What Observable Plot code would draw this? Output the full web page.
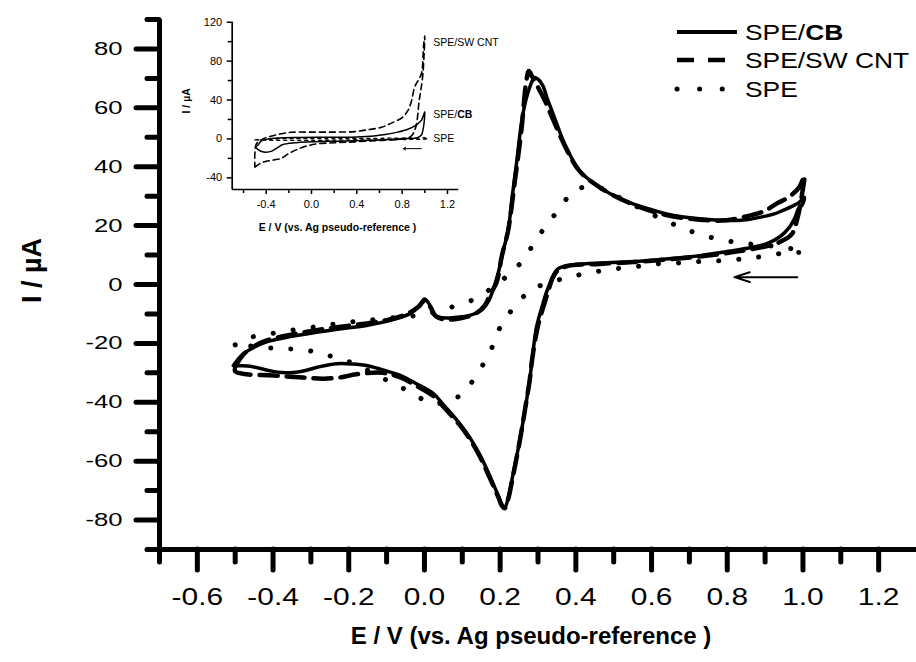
<!DOCTYPE html>
<html><head><meta charset="utf-8">
<script src="https://cdn.jsdelivr.net/npm/d3@7"></script>
<script src="https://cdn.jsdelivr.net/npm/@observablehq/plot@0.6"></script>
<style>
html,body{margin:0;padding:0;background:#fff;}
#wrap{position:relative;width:916px;height:662px;overflow:hidden;font-family:"Liberation Sans",Arial,sans-serif;}
#main,#inset,#legend{position:absolute;left:0;top:0;}
#inset{left:160px;top:0;}
</style></head><body>
<div id="wrap"><div id="main"></div><div id="inset"></div><svg id="legend" width="916" height="662"></svg></div>
<script>
// ---------- main chart data (E in V, I in µA) ----------
const cbE = [-0.505,-0.49,-0.478,-0.45,-0.417,-0.35,-0.285,-0.22,-0.153,-0.09,-0.038,-0.015,0.0,0.012,0.027,0.049,0.08,0.111,0.14,0.155,0.17,0.181,0.195,0.208,0.221,0.232,0.243,0.26,0.278,0.291,0.302,0.313,0.325,0.34,0.357,0.375,0.41,0.463,0.51,0.551,0.6,0.639,0.68,0.727,0.797,0.85,0.885,0.92,0.946,0.975,0.99,1.004,
  0.998,0.99,0.978,0.964,0.94,0.903,0.86,0.815,0.727,0.639,0.551,0.463,0.42,0.375,0.355,0.348,0.338,0.331,0.32,0.313,0.296,0.285,0.278,0.265,0.252,0.241,0.231,0.222,0.212,0.204,0.196,0.186,0.165,0.146,0.12,0.093,0.05,0.023,-0.02,-0.065,-0.11,-0.153,-0.19,-0.232,-0.28,-0.32,-0.355,-0.4,-0.46,-0.49,-0.505];
const cbI = [-27.5,-25,-23.5,-21.3,-19.5,-17.6,-16.2,-15,-13.9,-12.2,-9.9,-7.5,-4.9,-6.5,-10.5,-11.3,-11.2,-10.8,-9.5,-8.2,-5.5,-2,4,11.5,18.3,30,40.9,57.9,66.9,70.3,69.5,67.5,63,57.9,52,46.5,38.6,33,29.6,27.4,25.4,24,23,22.3,21.7,22,22.8,23.8,25.1,26.8,27.9,29.6,
  27,26.2,22.5,19.4,16.3,13.8,12.5,11.5,9.8,8.7,7.8,7.3,7,6.4,5.5,4.7,2.5,0.2,-3.5,-6.5,-14.5,-25,-32.5,-43,-52.9,-60,-66.4,-72,-75.9,-74.5,-72,-69,-62.8,-57.8,-52,-47.2,-40.8,-37,-33.8,-30.8,-29,-27.5,-27,-26.9,-28,-29.4,-30,-29.5,-27.8,-27.6,-27.5];

const cntE = [-0.5,-0.48,-0.45,-0.417,-0.35,-0.285,-0.22,-0.153,-0.09,-0.038,-0.015,0.0,0.015,0.03,0.05,0.08,0.111,0.14,0.16,0.175,0.19,0.205,0.221,0.239,0.256,0.269,0.276,0.285,0.3,0.32,0.34,0.375,0.41,0.463,0.551,0.639,0.727,0.797,0.859,0.9,0.929,0.96,0.99,1.004,
  0.998,0.986,0.97,0.94,0.903,0.815,0.727,0.639,0.551,0.463,0.375,0.35,0.338,0.33,0.318,0.3,0.285,0.278,0.265,0.252,0.241,0.231,0.222,0.212,0.204,0.196,0.186,0.165,0.146,0.12,0.093,0.05,0.023,-0.02,-0.065,-0.11,-0.18,-0.22,-0.267,-0.31,-0.355,-0.41,-0.47,-0.5,-0.5];
const cntI = [-28,-24,-21,-19,-17,-15.5,-14.3,-13.2,-11.8,-9.5,-7.5,-5.5,-7.5,-10.8,-11.8,-11.8,-11,-9.5,-7,-3,0.5,10,18.3,35.3,52.2,69,72.5,70.5,67,62,56,46,38.5,33,27.2,23.6,22,21.8,23.4,25,27.4,29.5,33,37,
  31,22.8,17,14.5,13,11,9.5,8.5,7.6,7,6.2,4.5,2,-1,-6,-14,-25,-32.5,-43,-53,-60.5,-67,-72.5,-76,-75,-72.5,-69.5,-63.5,-58.3,-52.5,-47.7,-41.5,-37.8,-34.5,-31.5,-30,-30.5,-31.5,-32,-31.7,-31.3,-30.8,-30.5,-29.5,-28];

const speE = [-0.5,-0.49,-0.46,-0.41,-0.355,-0.29,-0.232,-0.17,-0.109,-0.02,0.03,0.076,0.133,0.18,0.215,0.241,0.26,0.28,0.313,0.353,0.397,0.45,0.5,0.56,0.621,0.678,0.731,0.788,0.841,0.9,0.955,1.004,
  0.955,0.894,0.841,0.784,0.727,0.669,0.612,0.56,0.502,0.445,0.392,0.34,0.283,0.234,0.2,0.177,0.151,0.115,0.08,0.06,0.03,0.01,-0.047,-0.1,-0.16,-0.215,-0.267,-0.32,-0.38,-0.45,-0.5];
const speI = [-20.5,-20,-18,-16.8,-15.6,-14.4,-13.3,-12.4,-11.6,-10.5,-9.3,-7.5,-4.9,-1,2.5,5.3,8.5,12.1,18.5,25.1,31.9,33.3,30.5,26.5,22.6,19.4,16.9,15.1,14,13.3,12.5,11,
  10.8,9.5,8.7,8.1,7.8,7.3,7,6.1,5.3,4.2,2.8,1,-1.8,-8.2,-14.5,-21.8,-28,-34.8,-39,-40.4,-40.3,-39.9,-35.9,-32.5,-28.5,-25.5,-23.7,-22.1,-21.8,-21,-20.5];

// scan-direction arrow
const arrowE = [0.985, 0.819];
const arrowI = [2.5, 2.5];

// axes ticks
const xMajor = [-0.6,-0.4,-0.2,0.0,0.2,0.4,0.6,0.8,1.0,1.2];
const xMinor = [-0.7,-0.5,-0.3,-0.1,0.1,0.3,0.5,0.7,0.9,1.1];
const yMajor = [-80,-60,-40,-20,0,20,40,60,80];
const yMinor = [-90,-70,-50,-30,-10,10,30,50,70,90];
const xTitle = "E / V (vs. Ag pseudo-reference )";
const yTitle = "I / µA";

// ---------- inset data ----------
const insCntE = [-0.5,-0.45,-0.4,-0.35,-0.3,-0.26,-0.2,-0.13,-0.05,0.05,0.2,0.38,0.6,0.8,0.88,0.92,0.95,0.98,0.995,1.0,
  0.99,0.97,0.94,0.91,0.88,0.85,0.8,0.7,0.62,0.5,0.38,0.2,0.0,-0.18,-0.28,-0.35,-0.42,-0.47,-0.49,-0.5,-0.5];
const insCntI = [-29,-25,-23,-22,-21,-19.5,-15,-11,-7.5,-5,-4,-3,-1.5,0,3,12,39,63,90,106,
  97,67,60,53,38,29,22,16,12,9.5,7.5,7,7,6.8,5,3,0.5,-3,-6,-15,-29];
const insCbE = [-0.47,-0.44,-0.38,-0.3,-0.1,0.2,0.4,0.55,0.65,0.76,0.85,0.92,0.97,1.0,0.995,0.985,0.97,0.93,0.85,0.6,0.3,0.03,-0.1,-0.2,-0.26,-0.3,-0.35,-0.4,-0.44,-0.47,-0.49,-0.47];
const insCbI = [-6,-2,0,1,1.5,1.7,2,3,4.5,7,10,14,19,28,18,10,4,1,0.5,-1,-2.2,-2.8,-3.5,-4.5,-6,-9,-12.5,-13.7,-13,-11,-8.5,-6];
const insSpeE = [-0.5,-0.3,0,0.5,0.9,1.0,1.03,1.0,0.9,0.5,0,-0.3,-0.5];
const insSpeI = [-1,0.2,0.3,0.5,1,1.2,0.2,-0.3,-0.5,-1,-1.5,-1.5,-1];
const insLabels = ["SPE/SW CNT","SPE/CB","SPE"];
const insLabelE = [1.075,1.075,1.075];
const insLabelI = [99.4,24.7,0];
const insArrowE = [0.97, 0.81];
const insArrowI = [-10, -10];
const insXMajor = [-0.4,0.0,0.4,0.8,1.2];
const insXMinor = [-0.6,-0.2,0.2,0.6,1.0];
const insYMajor = [-40,0,40,80,120];
const insYMinor = [-20,20,60,100];

// legend
const legendNames = ["SPE/CB","SPE/SW CNT","SPE"];

// ---------- build ----------
const rows = (E, I) => E.map((e, i) => ({E: e, I: I[i]}));
const cb = rows(cbE, cbI), cnt = rows(cntE, cntI), spe = rows(speE, speI);
const FONT = '"Liberation Sans", Arial, sans-serif';

// widen glyphs horizontally (reference text is horizontally stretched)
function stretch(root, selector, sx) {
  root.querySelectorAll(selector).forEach(t => {
    const w = t.getComputedTextLength();
    if (w > 0) {
      t.setAttribute("textLength", (w * sx).toFixed(2));
      t.setAttribute("lengthAdjust", "spacingAndGlyphs");
    }
  });
}

const main = Plot.plot({
  width: 916, height: 662,
  marginLeft: 159, marginRight: 0, marginTop: 19, marginBottom: 113,
  x: {domain: [-0.7, 1.3]},
  y: {domain: [-90, 90]},
  style: {fontFamily: FONT, color: "#000", background: "transparent", overflow: "visible"},
  marks: [
    Plot.line(spe, {x: "E", y: "I", curve: "catmull-rom", stroke: "#000", strokeWidth: 5, strokeDasharray: "0.1,20", strokeLinecap: "round"}),
    Plot.line(cnt, {x: "E", y: "I", curve: "catmull-rom", stroke: "#000", strokeWidth: 4.5, strokeDasharray: "18,9"}),
    Plot.line(cb, {x: "E", y: "I", curve: "catmull-rom", stroke: "#000", strokeWidth: 3.5}),
    Plot.arrow([{x1: arrowE[0], x2: arrowE[1], y1: arrowI[0], y2: arrowI[1]}], {x1: "x1", y1: "y1", x2: "x2", y2: "y2", stroke: "#000", strokeWidth: 2, headLength: 12, headAngle: 35}),
    Plot.axisX(xMinor, {anchor: "bottom", tickSize: 13, strokeWidth: 5, strokeLinecap: "round", tickFormat: () => "", label: null}),
    Plot.axisX(xMajor, {anchor: "bottom", tickSize: 21, tickPadding: 18, strokeWidth: 5, strokeLinecap: "round", fontSize: 23, tickFormat: d => d.toFixed(1), label: null}),
    Plot.axisY(yMinor, {anchor: "left", tickSize: 12, strokeWidth: 5, strokeLinecap: "round", tickFormat: () => "", label: null}),
    Plot.axisY(yMajor, {anchor: "left", tickSize: 23, tickPadding: 14, strokeWidth: 5, strokeLinecap: "round", fontSize: 19, tickFormat: d => String(d), label: null}),
    Plot.ruleX([-0.7], {stroke: "#000", strokeWidth: 5}),
    Plot.ruleY([-90], {stroke: "#000", strokeWidth: 5}),
    Plot.text([xTitle], {frameAnchor: "bottom", dy: 87, dx: -7, textAnchor: "middle", lineAnchor: "middle", fontSize: 24, fontWeight: "bold", fill: "#000"}),
    Plot.text([yTitle], {frameAnchor: "left", dx: -127, dy: -14, textAnchor: "middle", lineAnchor: "middle", rotate: -90, fontSize: 27, fontWeight: "bold", fill: "#000"})
  ]
});
document.getElementById("main").appendChild(main);
stretch(main, 'g[aria-label="x-axis tick label"] text', 1.3);
stretch(main, 'g[aria-label="y-axis tick label"] text', 1.35);

// ---------- inset ----------
const iCb = rows(insCbE, insCbI), iCnt = rows(insCntE, insCntI), iSpe = rows(insSpeE, insSpeI);
const iLab = insLabels.map((t, i) => ({t, E: insLabelE[i], I: insLabelI[i]}));
const inset = Plot.plot({
  width: 300, height: 230,
  marginLeft: 71.7, marginRight: 1.7, marginTop: 21.7, marginBottom: 41,
  x: {domain: [-0.7, 1.3]},
  y: {domain: [-52, 120]},
  style: {fontFamily: FONT, color: "#000", background: "transparent", overflow: "visible"},
  marks: [
    Plot.line(iSpe, {x: "E", y: "I", stroke: "#000", strokeWidth: 1.3, strokeDasharray: "3,4"}),
    Plot.line(iCnt, {x: "E", y: "I", curve: "catmull-rom", stroke: "#000", strokeWidth: 1.6, strokeDasharray: "6,4"}),
    Plot.line(iCb, {x: "E", y: "I", curve: "catmull-rom", stroke: "#000", strokeWidth: 1.5}),
    Plot.arrow([{x1: insArrowE[0], x2: insArrowE[1], y1: insArrowI[0], y2: insArrowI[1]}], {x1: "x1", y1: "y1", x2: "x2", y2: "y2", stroke: "#000", strokeWidth: 1, headLength: 4}),
    Plot.text(iLab, {x: "E", y: "I", text: "t", textAnchor: "start", fontSize: 10.5, fill: "#000"}),
    Plot.axisX(insXMinor, {anchor: "bottom", tickSize: 4, strokeWidth: 1.5, tickFormat: () => "", label: null}),
    Plot.axisX(insXMajor, {anchor: "bottom", tickSize: 5, tickPadding: 6, strokeWidth: 1.5, fontSize: 11, tickFormat: d => d.toFixed(1), label: null}),
    Plot.axisY(insYMinor, {anchor: "left", tickSize: 4, strokeWidth: 1.5, tickFormat: () => "", label: null}),
    Plot.axisY(insYMajor, {anchor: "left", tickSize: 5, tickPadding: 5, strokeWidth: 1.5, fontSize: 11, tickFormat: d => String(d), label: null}),
    Plot.ruleX([-0.7], {stroke: "#000", strokeWidth: 1.7}),
    Plot.ruleY([-52], {stroke: "#000", strokeWidth: 1.7}),
    Plot.text([xTitle], {frameAnchor: "bottom", dy: 37.7, dx: -8, textAnchor: "middle", lineAnchor: "middle", fontSize: 10.5, fontWeight: "bold", fill: "#000"}),
    Plot.text([yTitle], {frameAnchor: "left", dx: -45.7, dy: -5, textAnchor: "middle", lineAnchor: "middle", rotate: -90, fontSize: 10.5, fontWeight: "bold", fill: "#000"})
  ]
});
document.getElementById("inset").appendChild(inset);
inset.querySelectorAll("text").forEach(t => {
  if (t.textContent === "SPE/CB") t.innerHTML = 'SPE/<tspan font-weight="bold">CB</tspan>';
});

// ---------- legend ----------
const lg = d3.select("#legend");
const rowsY = [32, 60, 89];
const styles = [
  {dash: null, w: 4, x2: 737, cap: "butt"},
  {dash: "17,14", w: 4.5, x2: 726, cap: "butt"},
  {dash: "0.1,22.5", w: 5, x2: 723, cap: "round"}
];
legendNames.forEach((name, i) => {
  const s = styles[i];
  lg.append("line").attr("x1", 677).attr("x2", s.x2).attr("y1", rowsY[i]).attr("y2", rowsY[i])
    .attr("stroke", "#000").attr("stroke-width", s.w).attr("stroke-linecap", s.cap)
    .attr("stroke-dasharray", s.dash);
  const t = lg.append("text").attr("transform", `translate(745,${rowsY[i]}) scale(1.2,1)`).attr("dy", "0.36em")
    .attr("font-family", FONT).attr("font-size", 22).attr("fill", "#000");
  if (name === "SPE/CB") {
    t.append("tspan").text("SPE/");
    t.append("tspan").attr("font-weight", "bold").text("CB");
  } else t.text(name);
});
</script>
</body></html>
